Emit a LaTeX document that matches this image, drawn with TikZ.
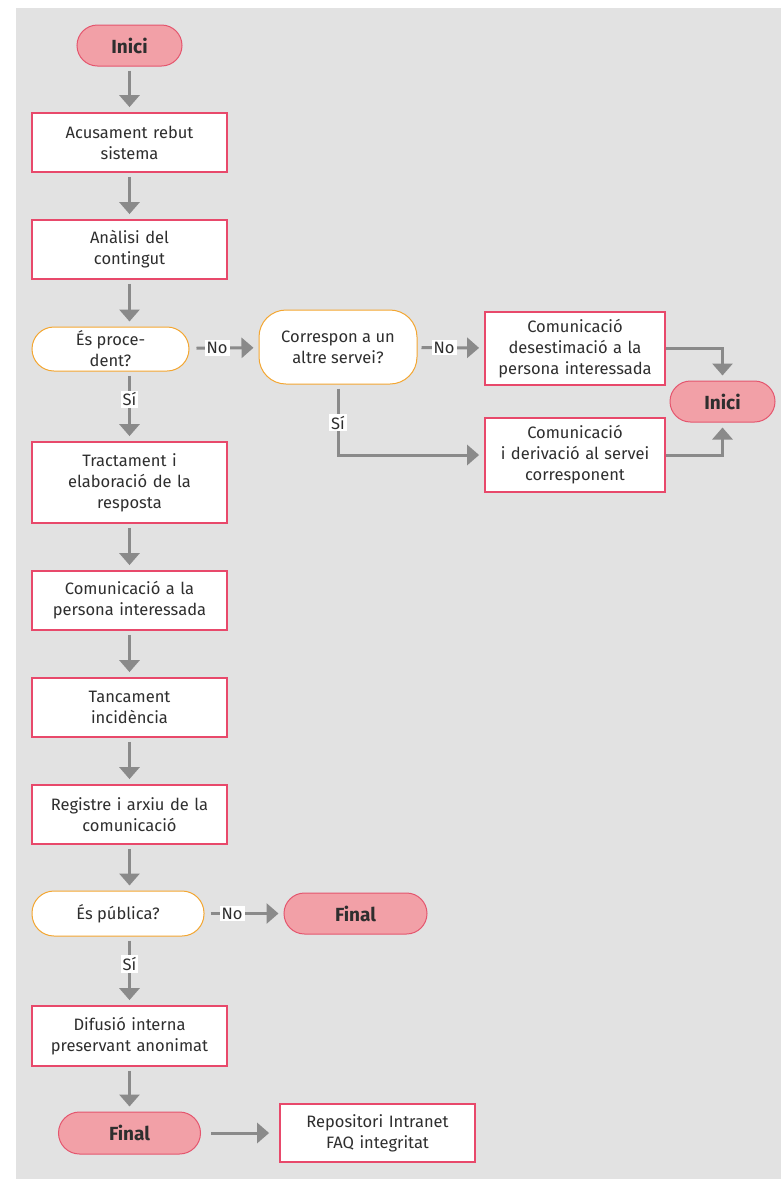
\documentclass[tikz,border=0pt]{standalone}
\usepackage{fontspec}
\setmainfont{Fira Sans}
\usetikzlibrary{arrows.meta}
\definecolor{bgc}{HTML}{E2E2E2}
\definecolor{arrc}{HTML}{8A8A8A}
\definecolor{pinkfill}{HTML}{F2A0A7}
\definecolor{pinkline}{HTML}{E4566E}
\definecolor{boxline}{HTML}{E8496B}
\definecolor{orangeline}{HTML}{F3A631}
\definecolor{txt}{HTML}{2E2E2E}
\begin{document}
\begin{tikzpicture}[x=1pt,y=-1pt,
  every node/.style={text=txt},
  txtfont/.style={font=\fontsize{16.5}{21}\selectfont},
  term/.style={draw=pinkline, fill=pinkfill, line width=1pt, rounded corners=20.5pt,
    minimum width=105pt, minimum height=41pt, inner sep=0pt,
    font=\fontsize{19}{21}\selectfont\bfseries},
  stepbox/.style={draw=boxline, fill=white, line width=1.8pt, minimum width=195pt,
    text width=190pt, align=center, inner sep=0pt, txtfont},
  decision/.style={draw=orangeline, fill=white, line width=1pt, minimum height=44pt,
    rounded corners=22pt, align=center, inner sep=0pt, txtfont},
  arr/.style={draw=arrc, line width=3pt, -{Triangle[width=20pt,length=12pt]},
    shorten <=4pt, shorten >=5pt},
  lbl/.style={fill=white, inner sep=2pt, txtfont, pos=0.4},
]
\useasboundingbox (0,0) rectangle (781,1179);
\fill[white] (0,0) rectangle (781,1179);
\fill[bgc] (16,8) rectangle (781,1179);

% main column
\node[term] (inici) at (129.5,45.5) {Inici};
\node[stepbox, minimum height=59pt] (acus) at (129.5,142.5) {Acusament rebut\\sistema};
\node[stepbox, minimum height=59pt] (anal) at (129.5,249.5) {Anàlisi del\\contingut};
\node[decision, minimum width=157pt] (proc) at (110.5,349) {És proce-\\dent?};
\node[decision, minimum width=158pt, minimum height=74pt, rounded corners=27pt] (corr) at (338,347) {Correspon a un\\altre servei?};
\node[stepbox, minimum width=180pt, text width=178pt, minimum height=73pt] (deses) at (575,348.5) {Comunicació\\desestimació a la\\persona interessada};
\node[stepbox, minimum width=180pt, text width=178pt, minimum height=74pt] (deriv) at (575,455) {Comunicació\\i derivació al servei\\corresponent};
\node[term] (inici2) at (722.5,401.5) {Inici};
\node[stepbox, minimum height=81pt] (tract) at (129.5,482.5) {Tractament i\\elaboració de la\\resposta};
\node[stepbox, minimum height=59pt] (comu) at (129.5,600.5) {Comunicació a la\\persona interessada};
\node[stepbox, minimum height=59pt] (tanc) at (129.5,707.5) {Tancament\\incidència};
\node[stepbox, minimum height=59pt] (regi) at (129.5,814.5) {Registre i arxiu de la\\comunicació};
\node[decision, minimum width=172pt, minimum height=45pt] (publ) at (118,913.5) {És pública?};
\node[term, minimum width=143pt] (final1) at (355.5,913.5) {Final};
\node[stepbox, minimum height=60pt] (difu) at (129.5,1036) {Difusió interna\\preservant anonimat};
\node[term, minimum width=142pt, minimum height=42pt, rounded corners=21pt] (final2) at (129.5,1133) {Final};
\node[stepbox, minimum height=58pt] (repo) at (377.5,1133) {Repositori Intranet\\FAQ integritat};

% connectors
\draw[arr] (inici) -- (acus);
\draw[arr] (acus) -- (anal);
\draw[arr] (anal.south) -- (anal.south |- proc.north);
\draw[arr, shorten <=7pt] (proc) -- node[lbl] {No} (corr);
\draw[arr] (corr) -- node[lbl] {No} (deses);
\draw[arr] (tract.north |- proc.south) -- node[lbl, pos=0.4] {Sí} (tract.north);
\draw[arr, shorten <=0pt] (deses.east) -| (inici2.north);
\draw[arr, shorten <=0pt] (deriv.east) -| (inici2.south);
\draw[arr] (corr.south) |- node[lbl, pos=0.27] {Sí} (deriv.west);
\draw[arr] (tract) -- (comu);
\draw[arr] (comu) -- (tanc);
\draw[arr] (tanc) -- (regi);
\draw[arr] (regi.south) -- (regi.south |- publ.north);
\draw[arr, shorten <=6pt] (publ) -- node[lbl, pos=0.35] {No} (final1);
\draw[arr] (difu.north |- publ.south) -- node[lbl] {Sí} (difu.north);
\draw[arr] (difu) -- (final2);
\draw[arr, shorten <=10pt, shorten >=10pt] (final2) -- (repo);
\end{tikzpicture}
\end{document}
